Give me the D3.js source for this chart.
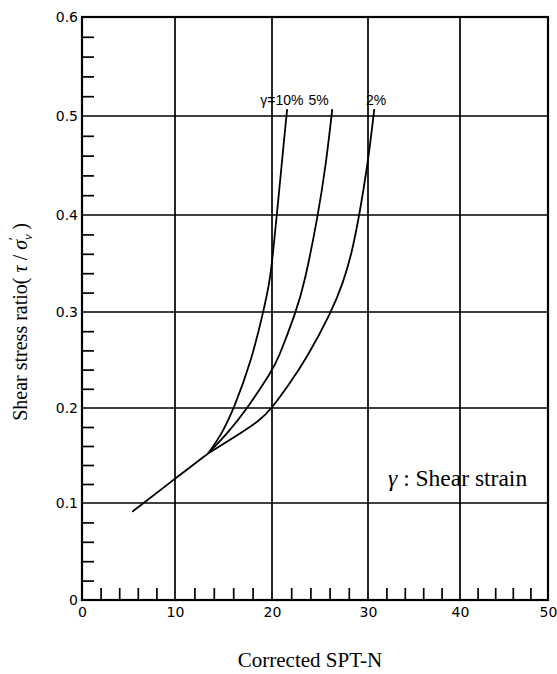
<!DOCTYPE html>
<html><head><meta charset="utf-8">
<script src="https://cdn.jsdelivr.net/npm/d3@7"></script>
<style>body{margin:0;background:#fff}</style>
</head><body>
<svg id="c" width="557" height="674"></svg>
<script>
// ---- data ----
const xMajor = [0, 10, 20, 30, 40, 50];
const yMajor = [0, 0.1, 0.2, 0.3, 0.4, 0.5, 0.6];
const yTickLabels = ["0", "0.1", "0.2", "0.3", "0.4", "0.5", "0.6"];
const xMinor = [2,4,6,8,12,14,16,18,22,24,26,28,32,34,36,38,42,44,46,48];
const yMinor = [0.02,0.04,0.06,0.08,0.12,0.14,0.16,0.18,0.22,0.24,0.26,0.28,0.32,0.34,0.36,0.38,0.42,0.44,0.46,0.48,0.52,0.54,0.56,0.58];
// common segment (N, tau/sigma')
const commonN = [5.4, 10, 13.4];
const commonR = [0.091, 0.1255, 0.152];
// gamma = 10%
const g10N = [13.4, 14.8, 16.1, 17.9, 19.1, 19.75, 20.1, 20.5, 21.0, 21.5, 21.58];
const g10R = [0.152, 0.172, 0.2, 0.25, 0.3, 0.33, 0.36, 0.4, 0.45, 0.5, 0.507];
// gamma = 5%
const g5N = [13.4, 15.3, 17.5, 20.0, 20.6, 22.5, 23.4, 24.8, 25.6, 26.2, 26.28];
const g5R = [0.152, 0.172, 0.2, 0.239, 0.25, 0.3, 0.33, 0.4, 0.45, 0.5, 0.507];
// gamma = 2%
const g2N = [13.4, 16.2, 18.8, 20.0, 21.8, 23.5, 26.2, 27.4, 28.3, 29.1, 29.95, 30.6, 30.68];
const g2R = [0.152, 0.170, 0.187, 0.2, 0.225, 0.25, 0.3, 0.33, 0.36, 0.4, 0.45, 0.5, 0.507];
const curveLabels = ["γ=10%", "5%", "2%"];
const curveLabelN = [18.8, 23.8, 29.8];

// ---- chart ----
const svg = d3.select("#c");
// scanned axes are slightly uneven: piecewise-linear scales through the printed grid lines
const x = d3.scaleLinear().domain(xMajor).range([82, 175, 272, 368, 460, 548]);
const y = d3.scaleLinear().domain(yMajor).range([600, 503, 408, 312, 215, 116, 17]);
const stroke = "#000";

// grid lines
svg.append("g").selectAll("line").data(xMajor.slice(1, -1)).join("line")
  .attr("x1", d => x(d)).attr("x2", d => x(d)).attr("y1", y(0)).attr("y2", y(0.6))
  .attr("stroke", stroke).attr("stroke-width", 1.7);
svg.append("g").selectAll("line").data(yMajor.slice(1, -1)).join("line")
  .attr("y1", d => y(d)).attr("y2", d => y(d)).attr("x1", x(0)).attr("x2", x(50))
  .attr("stroke", stroke).attr("stroke-width", 1.7);

// minor ticks (inside)
const xMin = svg.append("g").attr("transform", `translate(0,${y(0)})`)
  .call(d3.axisBottom(x).tickValues(xMinor).tickSize(-12).tickFormat(""));
xMin.select(".domain").remove();
xMin.selectAll("line").attr("stroke-width", 1.7);
const yMin = svg.append("g").attr("transform", `translate(${x(0)},0)`)
  .call(d3.axisLeft(y).tickValues(yMinor).tickSize(-12).tickFormat(""));
yMin.select(".domain").remove();
yMin.selectAll("line").attr("stroke-width", 1.7);

// major tick labels
const xLab = svg.append("g").attr("transform", `translate(0,${y(0)})`)
  .call(d3.axisBottom(x).tickValues(xMajor).tickSize(0).tickPadding(7).tickFormat(d3.format("d")));
xLab.select(".domain").remove();
xLab.selectAll("text").attr("font-family", "DejaVu Sans").attr("font-size", 14).attr("fill", "#000");
const yLab = svg.append("g").attr("transform", `translate(${x(0)},0)`)
  .call(d3.axisLeft(y).tickValues(yMajor).tickSize(0).tickPadding(4).tickFormat((d, i) => yTickLabels[i]));
yLab.select(".domain").remove();
yLab.selectAll("text").attr("font-family", "DejaVu Sans").attr("font-size", 14).attr("fill", "#000");

// frame
svg.append("rect").attr("x", x(0)).attr("y", y(0.6))
  .attr("width", x(50) - x(0)).attr("height", y(0) - y(0.6))
  .attr("fill", "none").attr("stroke", stroke).attr("stroke-width", 2.2);

// curves
const line = d3.line().x(d => x(d[0])).y(d => y(d[1])).curve(d3.curveBasis);
const series = [
  d3.zip(commonN, commonR),
  d3.zip(g10N, g10R),
  d3.zip(g5N, g5R),
  d3.zip(g2N, g2R)
];
svg.append("g").selectAll("path").data(series).join("path")
  .attr("d", line).attr("fill", "none").attr("stroke", stroke).attr("stroke-width", 1.8)
  .attr("stroke-linejoin", "round");

// curve labels
svg.append("g").selectAll("text").data(curveLabels).join("text")
  .attr("x", (d, i) => x(curveLabelN[i]))
  .attr("y", y(0.5115))
  .attr("font-family", "Liberation Sans").attr("font-size", 14).attr("fill", "#000")
  .text(d => d);

// legend note
const note = svg.append("text").attr("x", 388).attr("y", 486)
  .attr("font-family", "Liberation Serif, Times New Roman, serif").attr("font-size", 23.5).attr("fill", "#000");
note.append("tspan").attr("font-style", "italic").text("γ");
note.append("tspan").text(" : Shear strain");

// axis titles
svg.append("text").attr("x", 310).attr("y", 667).attr("text-anchor", "middle")
  .attr("font-family", "Liberation Serif, Times New Roman, serif").attr("font-size", 21).attr("fill", "#000")
  .text("Corrected SPT-N");

const yt = svg.append("text").attr("transform", "translate(27,322) rotate(-90)").attr("text-anchor", "middle")
  .attr("font-family", "Liberation Serif, Times New Roman, serif").attr("font-size", 20).attr("fill", "#000");
yt.append("tspan").text("Shear stress ratio( ");
yt.append("tspan").attr("font-style", "italic").text("τ");
yt.append("tspan").text(" / ");
yt.append("tspan").attr("font-style", "italic").text("σ");
yt.append("tspan").attr("font-size", 13).attr("dy", 5).attr("font-style", "italic").text("v");
yt.append("tspan").attr("font-size", 15).attr("dy", -13).attr("dx", -6).text("′");
yt.append("tspan").attr("dy", 8).attr("dx", 2).text(" )");
</script>
</body></html>
